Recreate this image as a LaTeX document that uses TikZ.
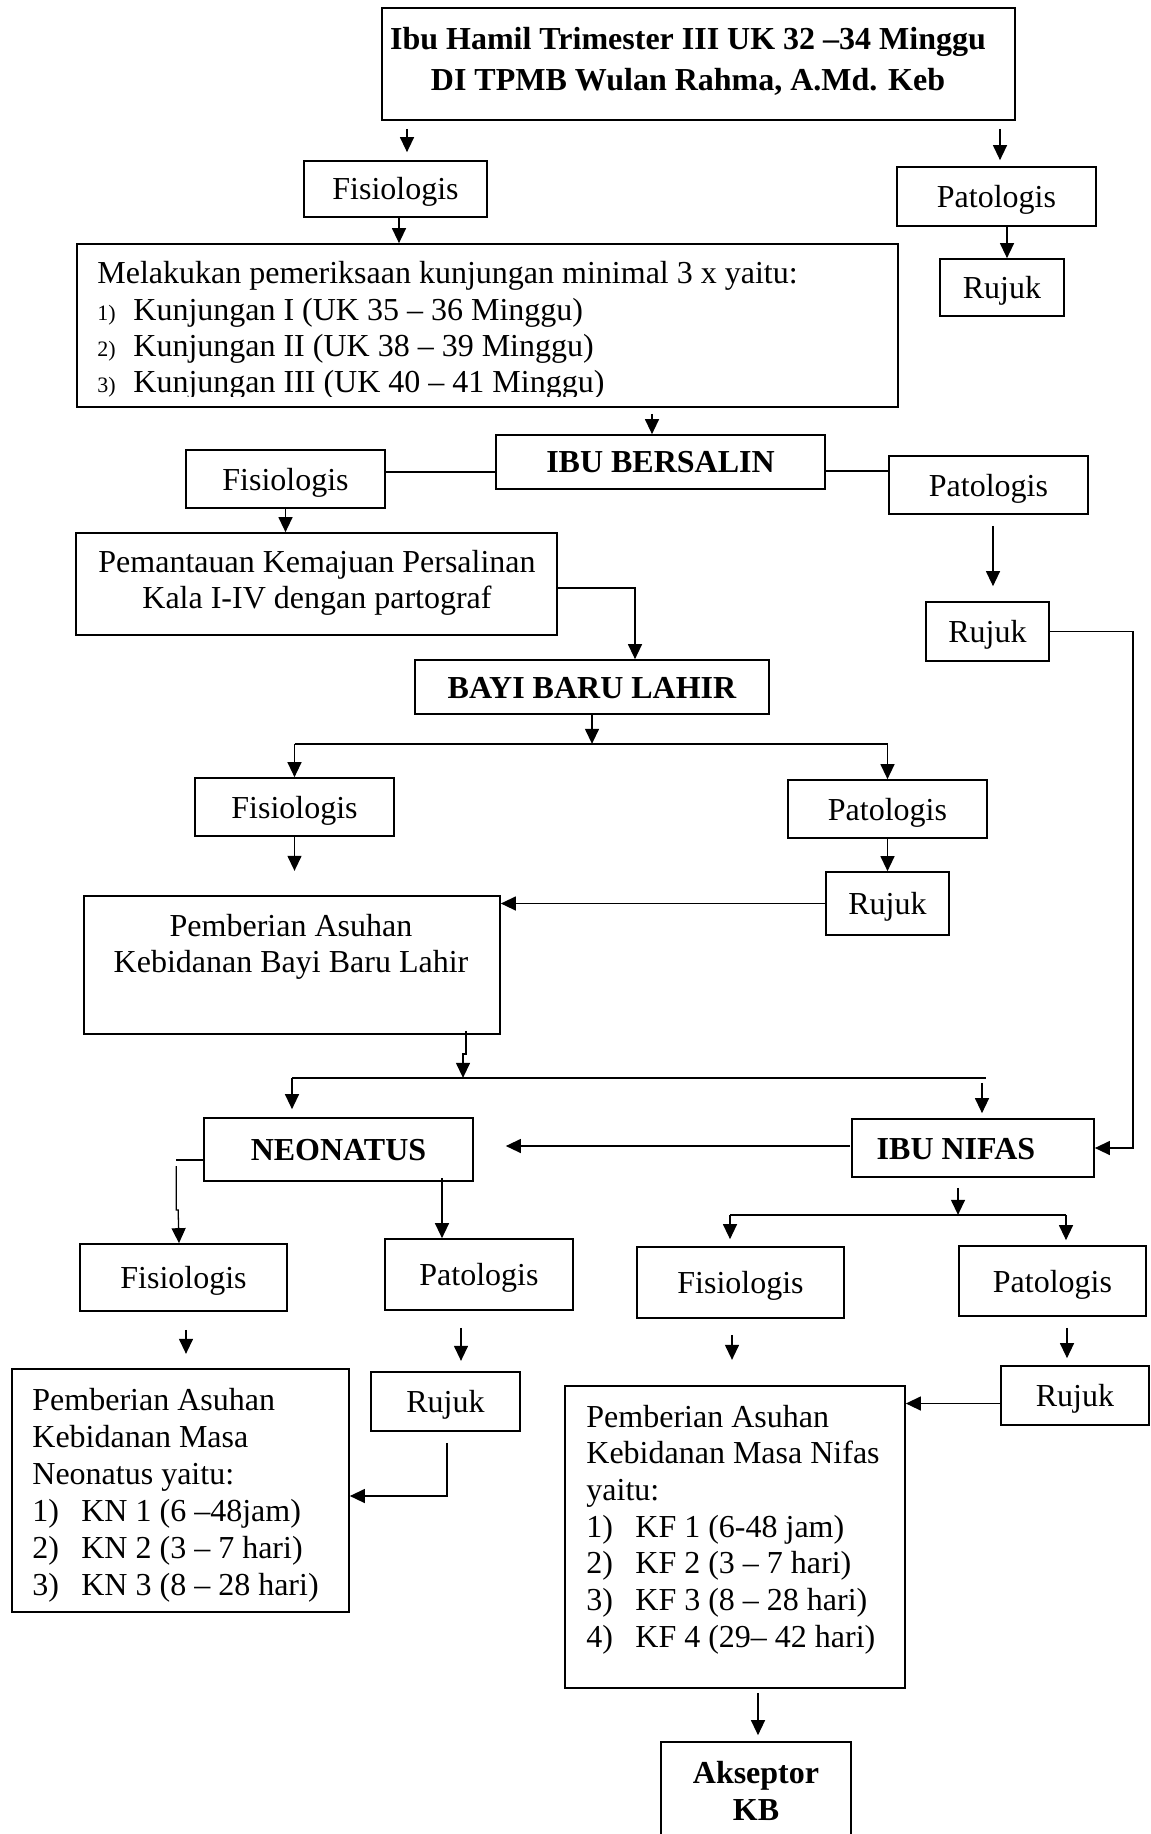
\documentclass[tikz,border=0pt]{standalone}
\usepackage{fontspec}
\setmainfont{Liberation Serif}
\usetikzlibrary{arrows.meta,calc}
\newcommand{\myfs}{\fontsize{16pt}{18pt}\selectfont}
\newcommand{\mysmall}{\fontsize{11pt}{13pt}\selectfont}
\newcommand{\mybox}[7][]{%
  \pgfmathsetmacro{\bw}{(#5-#3)/2}%
  \pgfmathsetmacro{\bh}{(#6-#4)/2}%
  \node[box,minimum width=\bw pt,minimum height=\bh pt,#1] (#2) at ({(#3+#5)/2},{(#4+#6)/2}) {#7};}
\begin{document}
\begin{tikzpicture}[x=0.5pt,y=-0.5pt,
  box/.style={draw,line width=0.85pt,inner sep=0pt,text height=11pt,text depth=0pt,font=\myfs},
  txt/.style={anchor=base west,inner sep=0pt,font=\myfs},
  ctxt/.style={anchor=base,inner sep=0pt,font=\myfs},
  ln/.style={line width=0.65pt},
  arr/.style={line width=0.65pt,-{Triangle[length=7.5pt,width=7pt]}}]
\useasboundingbox (0,0) rectangle (1150,1834);
\fill[white] (0,0) rectangle (1150,1834);
\clip (0,0) rectangle (1150,1834);

% ---------- boxes ----------
\mybox{top}{382}{8}{1015}{120}{}
\node[ctxt,font=\myfs\bfseries] (top1) at (688,50) {Ibu Hamil Trimester III UK 32 –34 Minggu};
\node[ctxt,font=\myfs\bfseries] (top2) at (688,91) {DI TPMB Wulan Rahma, A.Md. Keb};

\mybox{fis1}{304}{161}{487}{217}{Fisiologis}
\mybox{pat1}{897}{167}{1096}{226}{Patologis}
\mybox{ruj1}{940}{259}{1064}{316}{Rujuk}

\mybox{mel}{77}{244}{898}{407}{}
\node[txt] (mel1) at (97,284) {Melakukan pemeriksaan kunjungan minimal 3 x yaitu:};
\node[txt] (mel2) at (97,320.5) {\makebox[18pt][l]{\mysmall 1)}Kunjungan I (UK 35 – 36 Minggu)};
\node[txt] (mel3) at (97,357) {\makebox[18pt][l]{\mysmall 2)}Kunjungan II (UK 38 – 39 Minggu)};
\begin{scope}
  \clip (mel.north west) rectangle ($(mel.south east)+(0,-11)$);
  \node[txt] (mel4) at (97,393) {\makebox[18pt][l]{\mysmall 3)}Kunjungan III (UK 40 – 41 Minggu)};
\end{scope}

\mybox{ibu}{496}{435}{825}{489}{\bfseries IBU BERSALIN}
\mybox{fis2}{186}{450}{385}{508}{Fisiologis}
\mybox{pat2}{889}{456}{1088}{514}{Patologis}

\mybox{pem}{76}{533}{557}{635}{}
\node[ctxt] (pem1) at (317,572) {Pemantauan Kemajuan Persalinan};
\node[ctxt] (pem2) at (317,608) {Kala I-IV dengan partograf};

\mybox{ruj2}{926}{602}{1049}{661}{Rujuk}
\mybox{bayi}{415}{660}{769}{714}{\bfseries BAYI BARU LAHIR}

\mybox{fis3}{195}{778}{394}{836}{Fisiologis}
\mybox{pat3}{788}{780}{987}{838}{Patologis}
\mybox{ruj3}{826}{872}{949}{935}{Rujuk}

\mybox{pemb}{84}{896}{500}{1034}{}
\node[ctxt] (pemb1) at (291,936) {Pemberian Asuhan};
\node[ctxt] (pemb2) at (291,972) {Kebidanan Bayi Baru Lahir};

\mybox{neo}{204}{1118}{473}{1181}{\bfseries NEONATUS}
\mybox{nif}{852}{1119}{1094}{1177}{\bfseries IBU NIFAS\hspace*{17pt}}

\mybox{fis4}{80}{1244}{287}{1311}{Fisiologis}
\mybox{pat4}{385}{1239}{573}{1310}{Patologis}
\mybox{fis5}{637}{1247}{844}{1318}{Fisiologis}
\mybox{pat5}{959}{1246}{1146}{1316}{Patologis}

\mybox{neop}{12}{1369}{349}{1612}{}
\node[txt] (neop1) at (32,1410) {Pemberian Asuhan};
\node[txt] (neop2) at (32,1447) {Kebidanan Masa};
\node[txt] (neop3) at (32,1484) {Neonatus yaitu:};
\node[txt] (neop4) at (32,1521) {\makebox[24.5pt][l]{1)}KN 1 (6 –48jam)};
\node[txt] (neop5) at (32,1558) {\makebox[24.5pt][l]{2)}KN 2 (3 – 7 hari)};
\node[txt] (neop6) at (32,1595) {\makebox[24.5pt][l]{3)}KN 3 (8 – 28 hari)};

\mybox{ruj4}{371}{1372}{520}{1431}{Rujuk}

\mybox{nifp}{565}{1386}{905}{1688}{}
\node[txt] (nifp1) at (586,1427) {Pemberian Asuhan};
\node[txt] (nifp2) at (586,1463.7) {Kebidanan Masa Nifas};
\node[txt] (nifp3) at (586,1500.3) {yaitu:};
\node[txt] (nifp4) at (586,1537) {\makebox[24.5pt][l]{1)}KF 1 (6-48 jam)};
\node[txt] (nifp5) at (586,1573.7) {\makebox[24.5pt][l]{2)}KF 2 (3 – 7 hari)};
\node[txt] (nifp6) at (586,1610.3) {\makebox[24.5pt][l]{3)}KF 3 (8 – 28 hari)};
\node[txt] (nifp7) at (586,1647) {\makebox[24.5pt][l]{4)}KF 4 (29– 42 hari)};

\mybox{ruj5}{1001}{1366}{1149}{1425}{Rujuk}

\mybox{aks}{661}{1742}{851}{1900}{}
\node[ctxt,font=\myfs\bfseries] (aks1) at (756,1783) {Akseptor};
\node[ctxt,font=\myfs\bfseries] (aks2) at (756,1820) {KB};

% ---------- connectors ----------
\draw[arr] ($(top.south -| fis1.north)+(11.5,8)$) -- ($(fis1.north)+(11.5,-8)$);
\draw[arr] ($(top.south -| pat1.north)+(3.5,8)$) -- ($(pat1.north)+(3.5,-6)$);
\draw[arr] ($(fis1.south)+(3.5,0)$) -- ($(mel.north -| fis1.south)+(3.5,0)$);
\draw[arr] ($(pat1.south)+(10.5,0)$) -- ($(ruj1.north)+(5,0)$);
\draw[arr] ($(mel.south -| ibu.north)+(-8.5,6)$) -- ($(ibu.north)+(-8.5,0)$);
\draw[ln] ($(ibu.west)+(0,10)$) -- ($(ibu.west -| fis2.east)+(0,10)$);
\draw[ln] ($(ibu.east)+(0,9)$) -- ($(ibu.east -| pat2.west)+(0,9)$);
\draw[arr] (fis2.south) -- (fis2.south |- pem.north);
\draw[arr] ($(pem.east)+(0,4)$) -| ($(bayi.north)+(43,0)$);
\draw[arr] ($(pat2.south)+(4.5,11)$) -- ($(ruj2.north -| pat2.south)+(4.5,-15)$);
\draw[arr] (ruj2.east) -- ++(83,0) |- (nif.east);

\draw[arr] (bayi.south) -- ++(0,29);
\coordinate (j1) at ($(bayi.south)+(0,29)$);
\draw[ln] (j1 -| fis3.north) -- (j1 -| pat3.north);
\draw[arr] (j1 -| fis3.north) -- (fis3.north);
\draw[arr] (j1 -| pat3.north) -- (pat3.north);

\draw[arr] (fis3.south) -- ++(0,34);
\draw[arr] (pat3.south) -- (ruj3.north);
\draw[arr] (ruj3.west) -- (ruj3.west -| pemb.east);

\coordinate (j2) at ($(pemb.south)+(171,43)$);
\draw[arr] ($(pemb.south)+(174,-4)$) -- ++(0,23) -- ++(-3,0) -- (j2);
\draw[ln] ($(j2 -| neo.north)+(-46.5,0)$) -- ($(j2 -| nif.north)+(13,0)$);
\draw[arr] ($(j2 -| neo.north)+(-46.5,0)$) -- ($(neo.north)+(-46.5,-8)$);
\draw[arr] ($(j2 -| nif.north)+(9,5)$) -- ($(nif.north)+(9,-5)$);

\draw[arr] ($(nif.west)+(-1,-2)$) -- ($(neo.east |- nif.west)+(32,-2)$);

\draw[ln] ($(neo.west)+(2,10.5)$) -- ++(-29,0);
\draw[arr] ($(neo.west)+(-27,16.5)$) -- ++(0,44) -- ++(2,0) -- ($(fis4.north)+(-4.5,0)$);
\draw[arr] ($(neo.south)+(103.5,-4)$) -- ($(pat4.north)+(-37,0)$);

\draw[arr] ($(nif.south)+(-15,10)$) -- ++(0,27);
\coordinate (j3) at ($(nif.south)+(-15,37)$);
\draw[ln] ($(j3 -| fis5.north)+(-10.5,0)$) -- ($(j3 -| pat5.north)+(13.5,0)$);
\draw[arr] ($(j3 -| fis5.north)+(-10.5,0)$) -- ($(fis5.north)+(-10.5,-7)$);
\draw[arr] ($(j3 -| pat5.north)+(13.5,0)$) -- ($(pat5.north)+(13.5,-5)$);

\draw[arr] ($(fis4.south)+(2.5,18)$) -- ++(0,24);
\draw[arr] ($(pat4.south)+(-18,17)$) -- ++(0,33);
\draw[arr] ($(fis5.south)+(-8.5,16)$) -- ++(0,25);
\draw[arr] ($(pat5.south)+(14.5,11)$) -- ($(ruj5.north -| pat5.south)+(14.5,-7)$);
\draw[arr] ($(ruj4.south)+(1.5,11)$) |- ($(neop.east)+(0,5.5)$);
\draw[arr] ($(ruj5.west)+(0,8)$) -- ($(ruj5.west -| nifp.east)+(0,8)$);
\draw[arr] ($(nifp.south)+(23,4)$) -- ($(aks.north)+(2,-6)$);
\end{tikzpicture}
\end{document}
